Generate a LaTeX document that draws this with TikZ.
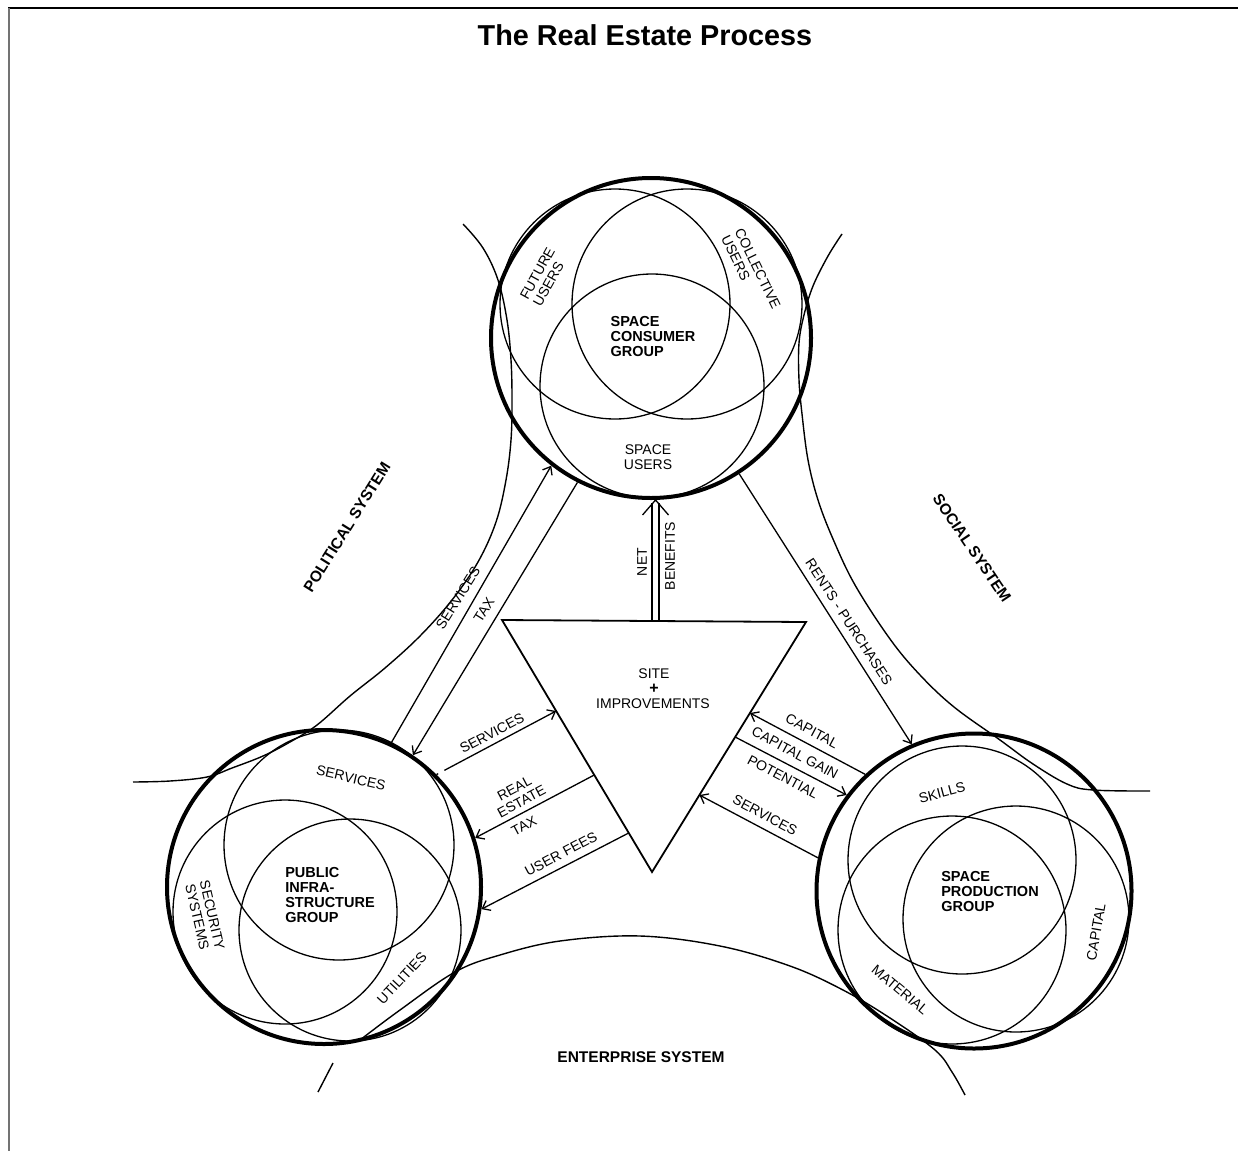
\documentclass[tikz,border=0pt]{standalone}
\usepackage{fontspec}
\setmainfont{Liberation Sans}
\usetikzlibrary{arrows.meta,calc}
\begin{document}
\begin{tikzpicture}[x=1pt,y=1pt,
  thickc/.style={circle, draw, line width=4pt, inner sep=0pt},
  venn/.style={line width=1.3pt},
  conn/.style={line width=1.3pt},
  arr/.style={conn, -{Straight Barb[length=7pt,width=11pt,line width=1.3pt]}},
  sysline/.style={line width=1.4pt},
  lbl/.style={font=\fontsize{14}{15}\selectfont, inner sep=0pt, align=center},
  grp/.style={font=\bfseries\fontsize{14.5}{15}\selectfont, inner sep=0pt, align=left},
  sys/.style={font=\bfseries\fontsize{15.5}{16}\selectfont, inner sep=0pt},
]
\useasboundingbox (0,-1151) rectangle (1238,0);
% frame
\draw[line width=1.5pt] (8,-8) -- (1238,-8);
\draw[line width=1.5pt, black!55] (9,-8) -- (9,-1151);
% title
\node[font=\bfseries\fontsize{28.8}{30}\selectfont, inner sep=0pt] (title) at (645,-35) {The Real Estate Process};

% group circles
\node[thickc, minimum size=320pt] (scg) at (651,-338) {};
\node[thickc, minimum size=314pt] (pig) at (324,-887) {};
\node[thickc, minimum size=315pt] (psg) at (974,-891) {};

% venn circles
\draw[venn] (615,-304) circle[radius=115pt];
\draw[venn] (687,-304) circle[radius=115pt];
\draw[venn] (652,-386) circle[radius=112pt];
\draw[venn] (339,-845) circle[radius=115pt];
\draw[venn] (285,-912) circle[radius=112pt];
\draw[venn] (350,-930) circle[radius=111pt];
\draw[venn] (962,-860) circle[radius=114pt];
\draw[venn] (952,-930) circle[radius=114pt];
\draw[venn] (1016,-919) circle[radius=113pt];

% system boundary curves
\draw[sysline] plot[smooth, tension=0.6] coordinates {(463,-224) (483,-248) (498,-280) (507,-320) (511,-360) (512,-400) (511,-440) (506,-480) (496,-522) (478,-562) (452,-600) (420,-636) (385,-668) (350,-696) (317,-725) (290,-742) (263,-756) (232,-768) (207,-777) (170,-781) (133,-782)};
\draw[sysline] plot[smooth, tension=0.6] coordinates {(842,-234) (828,-256) (813,-286) (804,-315) (799,-343) (799,-380) (802,-414) (808,-460) (818,-500) (833,-539) (855,-585) (890,-639) (920,-675) (954,-707) (1000,-740) (1033,-764) (1067,-784) (1093,-790) (1150,-791)};
\draw[sysline] plot[smooth, tension=0.6] coordinates {(360,-1040) (400,-1010) (455,-972) (500,-955) (560,-941) (640,-936) (720,-946) (790,-966) (843,-990) (890,-1018) (935,-1050) (952,-1072) (965,-1095)};
\draw[sysline] (333,-1063) -- (318,-1092);

% triangle
\coordinate (tl) at (502,-620);
\coordinate (tr) at (806,-622);
\coordinate (tb) at (652,-872);
\draw[line width=1.8pt, line join=miter] (tl) -- (tr) -- (tb) -- cycle;
\node[lbl] (site) at (654,-674) {SITE};
\node[font=\bfseries\fontsize{16}{16}\selectfont, inner sep=0pt] (plus) at (654,-689) {+};
\node[lbl] (impr) at (653,-704) {IMPROVEMENTS};

% points on triangle edges
\coordinate (tL1) at ($(tl)!0.361!(tb)$);
\coordinate (tL2) at ($(tl)!0.615!(tb)$);
\coordinate (tL3) at ($(tl)!0.845!(tb)$);
\coordinate (tR1) at ($(tr)!0.364!(tb)$);
\coordinate (tR2) at ($(tr)!0.46!(tb)$);
\coordinate (tR3) at ($(tr)!0.692!(tb)$);

% net benefits
\coordinate (nb) at ($(tl)!0.505!(tr)$);
\coordinate (nbt) at (nb |- scg.south);
\draw[conn] ([xshift=-3.5pt]nb) -- ([xshift=-3.5pt,yshift=-3pt]nbt);
\draw[conn] ([xshift=3.5pt]nb) -- ([xshift=3.5pt,yshift=-3pt]nbt);
\draw[conn] ([xshift=-13pt,yshift=-15pt]nbt) -- (nbt) -- ([xshift=13pt,yshift=-15pt]nbt);
\node[lbl, rotate=90] (net) at (642,-562) {NET};
\node[lbl, rotate=90] (ben) at (670,-556) {BENEFITS};

% connectors
\draw[arr] (pig.65) -- (scg.232);
\draw[arr] (scg.243) -- (pig.56);
\draw[arr] (scg.303) -- (psg.113);
\draw[arr, dash pattern=on 2pt off 7pt on 400pt] (pig.45) -- (tL1);
\draw[arr] (tL2) -- (pig.18);
\draw[arr] (tL3) -- (pig.-8);
\draw[arr] (psg.133) -- (tR1);
\draw[arr] (tR2) -- (psg.143);
\draw[arr] (psg.168) -- (tR3);

% connector labels
\node[lbl, rotate=58] (l1) at (458,-598) {SERVICES};
\node[lbl, rotate=58] (l2) at (484,-610) {TAX};
\node[lbl, rotate=-57] (l3) at (849,-622) {RENTS - PURCHASES};
\node[lbl, rotate=28] (l4) at (492,-733) {SERVICES};
\node[lbl, rotate=28] (l5) at (518,-795) {REAL\\ESTATE};
\node[lbl, rotate=28] (l6) at (524,-826) {TAX};
\node[lbl, rotate=28] (l7) at (561,-854) {USER FEES};
\node[lbl, rotate=-28] (l8) at (812,-731) {CAPITAL};
\node[lbl, rotate=-28] (l9) at (795,-753) {CAPITAL GAIN};
\node[lbl, rotate=-28] (l10) at (783,-777) {POTENTIAL};
\node[lbl, rotate=-28] (l11) at (765,-815) {SERVICES};

% group labels
\node[grp] (g1) at (653,-337) {SPACE\\CONSUMER\\GROUP};
\node[lbl, rotate=61, align=left] (g1a) at (544,-277) {FUTURE\\USERS};
\node[lbl, rotate=-64, align=left] (g1b) at (751,-272) {COLLECTIVE\\USERS};
\node[lbl] (g1c) at (648,-457) {SPACE\\USERS};
\node[lbl, rotate=-13] (g2a) at (351,-778) {SERVICES};
\node[lbl, rotate=-77, align=left] (g2b) at (205,-917) {SECURITY\\SYSTEMS};
\node[grp] (g2) at (330,-895) {PUBLIC\\INFRA-\\STRUCTURE\\GROUP};
\node[lbl, rotate=47] (g2c) at (402,-978) {UTILITIES};
\node[lbl, rotate=15] (g3a) at (942,-793) {SKILLS};
\node[grp] (g3) at (990,-891) {SPACE\\PRODUCTION\\GROUP};
\node[lbl, rotate=80] (g3b) at (1096,-932) {CAPITAL};
\node[lbl, rotate=-40] (g3c) at (900,-990) {MATERIAL};

% system labels
\node[sys, rotate=58] (s1) at (347,-527) {POLITICAL SYSTEM};
\node[sys, rotate=-56] (s2) at (972,-548) {SOCIAL SYSTEM};
\node[sys] (s3) at (641,-1057) {ENTERPRISE SYSTEM};
\end{tikzpicture}
\end{document}
